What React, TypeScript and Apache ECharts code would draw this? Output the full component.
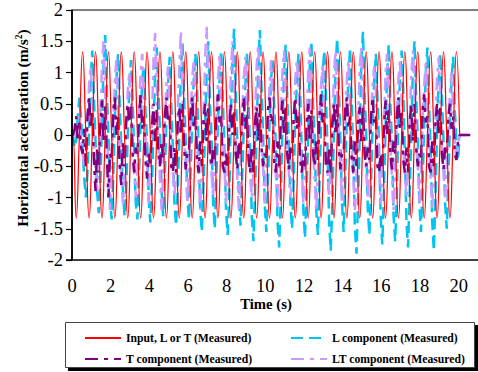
import React, { useEffect, useRef } from "react";
import * as echarts from "echarts";

// time base (s)
const sampleStart = 0.05;
const sampleStep = 1 / 12;
const inputStep = 1 / 6;
const tailTime = 20.6;

const seriesNames = [
  "Input, L or T (Measured)",
  "L component (Measured)",
  "T component (Measured)",
  "LT component (Measured)",
];

// Input (red), sampled every 1/6 s
const inputValues = [
  0, -1.33, 0, 1.33, 0, -1.33, 0, 1.33,
  0, -1.33, 0, 1.33, 0, -1.33, 0, 1.33,
  0, -1.33, 0, 1.33, 0, -1.33, 0, 1.33,
  0, -1.33, 0, 1.33, 0, -1.33, 0, 1.33,
  0, -1.33, 0, 1.33, 0, -1.33, 0, 1.33,
  0, -1.33, 0, 1.33, 0, -1.33, 0, 1.33,
  0, -1.33, 0, 1.33, 0, -1.33, 0, 1.33,
  0, -1.33, 0, 1.33, 0, -1.33, 0, 1.33,
  0, -1.33, 0, 1.33, 0, -1.33, 0, 1.33,
  0, -1.33, 0, 1.33, 0, -1.33, 0, 1.33,
  0, -1.33, 0, 1.33, 0, -1.33, 0, 1.33,
  0, -1.33, 0, 1.33, 0, -1.33, 0, 1.33,
  0, -1.33, 0, 1.33, 0, -1.33, 0, 1.33,
  0, -1.33, 0, 1.33, 0, -1.33, 0, 1.33,
  0, -1.33, 0, 1.33, 0, -1.33, 0, 1.33,
  0,
];

// L component (cyan), sampled every 1/12 s
const lValues = [
  0, -0.2, -0.1, 0.3, 0.6, 0.3, -0.2, -0.7,
  -1.0, -0.6, 0.1, 0.9, 1.35, 0.6, -0.1, -0.9,
  -1.25, -0.8, 0.2, 1.1, 1.6, 0.7, 0.0, -1.0,
  -1.35, -0.7, 0.3, 0.9, 1.3, 0.5, -0.2, -0.9,
  -1.3, -0.9, 0.0, 0.8, 1.2, 0.6, -0.3, -1.1,
  -1.35, -0.6, 0.2, 0.9, 1.1, 0.4, -0.1, -1.0,
  -1.4, -0.8, 0.1, 1.0, 1.4, 0.7, 0.1, -0.9,
  -1.3, -0.7, 0.3, 0.8, 1.25, 0.5, -0.2, -1.1,
  -1.45, -0.9, 0.0, 1.1, 1.47, 0.6, -0.1, -1.0,
  -1.35, -0.6, 0.2, 0.9, 1.3, 0.8, -0.3, -1.2,
  -1.55, -0.8, 0.1, 1.0, 1.5, 0.5, 0.0, -1.1,
  -1.5, -0.7, 0.2, 0.9, 1.35, 0.6, -0.2, -1.2,
  -1.6, -1.0, 0.3, 1.2, 1.7, 0.7, -0.1, -1.0,
  -1.45, -0.7, 0.1, 0.8, 1.3, 0.5, -0.3, -1.3,
  -1.7, -0.9, 0.0, 1.1, 1.68, 0.8, 0.0, -1.1,
  -1.55, -0.8, 0.2, 0.9, 1.2, 0.4, -0.2, -1.4,
  -1.8, -1.0, 0.1, 1.0, 1.45, 0.6, -0.1, -1.1,
  -1.5, -0.7, 0.3, 0.9, 1.3, 0.7, -0.3, -1.2,
  -1.65, -0.9, 0.0, 1.1, 1.5, 0.5, 0.0, -1.2,
  -1.6, -0.8, 0.2, 1.0, 1.35, 0.6, -0.2, -1.4,
  -1.85, -1.1, 0.1, 1.1, 1.55, 0.8, -0.1, -1.1,
  -1.55, -0.7, 0.3, 0.9, 1.4, 0.5, -0.3, -1.5,
  -1.9, -1.0, 0.0, 1.2, 1.65, 0.7, 0.0, -1.2,
  -1.6, -0.8, 0.2, 0.9, 1.3, 0.6, -0.2, -1.3,
  -1.75, -0.9, 0.1, 1.0, 1.45, 0.5, -0.1, -1.3,
  -1.7, -1.0, 0.3, 0.9, 1.35, 0.7, -0.3, -1.4,
  -1.8, -0.9, 0.0, 1.1, 1.5, 0.6, 0.0, -1.1,
  -1.55, -0.8, 0.2, 1.0, 1.4, 0.5, -0.2, -1.4,
  -1.85, -1.0, 0.1, 0.9, 1.3, 0.6, -0.1, -1.1,
  -1.5, -0.7, 0.2, 0.9, 1.25, 0.4, -0.1, -0.4,
  0,
];

// T component (purple), sampled every 1/12 s
const tValues = [
  0, 0.1, 0.3, -0.1, 0.2, -0.2, -0.3, 0.1,
  -0.5, 0.3, 0.6, 0.1, 0.4, -0.4, -0.9, -0.2,
  -0.6, 0.2, 0.55, -0.1, 0.5, -0.3, -1.0, -0.3,
  -0.4, 0.4, 0.6, 0.0, 0.3, -0.5, -0.8, -0.1,
  -0.5, 0.2, 0.5, 0.2, 0.45, -0.3, -0.6, -0.2,
  -0.3, 0.3, 0.65, 0.1, 0.3, -0.4, -0.7, -0.3,
  -0.5, 0.1, 0.5, -0.1, 0.4, -0.3, -0.5, -0.1,
  -0.4, 0.3, 0.6, 0.2, 0.35, -0.5, -0.6, -0.2,
  -0.6, 0.2, 0.45, 0.0, 0.5, -0.2, -0.55, -0.3,
  -0.3, 0.4, 0.6, 0.1, 0.3, -0.4, -0.6, -0.1,
  -0.5, 0.2, 0.5, -0.1, 0.45, -0.3, -0.5, -0.2,
  -0.4, 0.3, 0.65, 0.2, 0.3, -0.5, -0.6, -0.3,
  -0.5, 0.1, 0.5, 0.0, 0.4, -0.3, -0.55, -0.1,
  -0.3, 0.3, 0.6, 0.1, 0.35, -0.4, -0.6, -0.2,
  -0.6, 0.2, 0.45, -0.1, 0.5, -0.2, -0.5, -0.3,
  -0.4, 0.4, 0.6, 0.2, 0.3, -0.5, -0.6, -0.1,
  -0.5, 0.2, 0.55, 0.0, 0.45, -0.3, -0.55, -0.2,
  -0.3, 0.3, 0.6, 0.1, 0.3, -0.4, -0.6, -0.3,
  -0.5, 0.1, 0.5, -0.1, 0.4, -0.3, -0.5, -0.1,
  -0.4, 0.3, 0.65, 0.2, 0.35, -0.5, -0.6, -0.2,
  -0.6, 0.2, 0.5, 0.0, 0.5, -0.2, -0.55, -0.3,
  -0.3, 0.4, 0.6, 0.1, 0.3, -0.4, -0.6, -0.1,
  -0.5, 0.2, 0.45, -0.1, 0.45, -0.3, -0.5, -0.2,
  -0.4, 0.3, 0.6, 0.2, 0.3, -0.5, -0.6, -0.3,
  -0.5, 0.1, 0.55, 0.0, 0.4, -0.3, -0.55, -0.1,
  -0.3, 0.3, 0.6, 0.1, 0.35, -0.4, -0.6, -0.2,
  -0.6, 0.2, 0.5, -0.1, 0.5, -0.2, -0.5, -0.3,
  -0.4, 0.4, 0.65, 0.2, 0.3, -0.5, -0.6, -0.1,
  -0.5, 0.2, 0.5, 0.0, 0.45, -0.3, -0.55, -0.2,
  -0.3, 0.3, 0.5, 0.1, 0.3, -0.3, -0.4, -0.1,
  0,
];

// LT component (lavender), sampled every 1/12 s
const ltValues = [
  0, 0, 0.1, 0.3, 0.2, -0.1, -0.3, -0.5,
  -0.3, 0.2, 0.8, 1.1, 0.6, -0.1, -0.6, -0.9,
  -0.5, 0.3, 1.1, 1.5, 0.7, 0.0, -0.5, -1.2,
  -0.6, 0.1, 0.9, 1.2, 0.5, -0.2, -0.7, -1.1,
  -0.5, 0.2, 0.7, 1.0, 0.6, -0.1, -0.6, -1.0,
  -0.6, 0.3, 1.0, 1.3, 0.5, 0.0, -0.5, -1.1,
  -0.4, 0.2, 1.2, 1.63, 0.8, -0.1, -0.7, -1.2,
  -0.6, 0.1, 0.8, 1.1, 0.5, -0.2, -0.6, -1.0,
  -0.5, 0.3, 1.1, 1.66, 0.7, 0.0, -0.5, -1.1,
  -0.6, 0.2, 0.9, 1.2, 0.6, -0.1, -0.7, -1.2,
  -0.5, 0.3, 1.2, 1.73, 0.8, -0.2, -0.6, -1.0,
  -0.4, 0.1, 0.9, 1.3, 0.5, 0.0, -0.5, -1.1,
  -0.6, 0.2, 1.0, 1.5, 0.7, -0.1, -0.7, -1.2,
  -0.5, 0.3, 0.9, 1.25, 0.6, -0.2, -0.6, -1.0,
  -0.6, 0.2, 1.1, 1.45, 0.7, 0.0, -0.5, -1.1,
  -0.5, 0.1, 0.8, 1.2, 0.5, -0.1, -0.7, -1.2,
  -0.4, 0.3, 1.0, 1.35, 0.6, -0.2, -0.6, -1.0,
  -0.6, 0.2, 0.9, 1.2, 0.7, 0.0, -0.5, -1.1,
  -0.5, 0.2, 1.0, 1.4, 0.5, -0.1, -0.7, -1.2,
  -0.6, 0.3, 0.8, 1.15, 0.6, -0.2, -0.6, -1.0,
  -0.5, 0.1, 1.0, 1.35, 0.7, 0.0, -0.5, -1.1,
  -0.4, 0.2, 0.9, 1.2, 0.5, -0.1, -0.7, -1.2,
  -0.6, 0.3, 1.1, 1.4, 0.6, -0.2, -0.6, -1.0,
  -0.5, 0.2, 0.8, 1.1, 0.7, 0.0, -0.5, -1.1,
  -0.6, 0.1, 1.0, 1.3, 0.5, -0.1, -0.7, -1.2,
  -0.5, 0.3, 0.9, 1.2, 0.6, -0.2, -0.6, -1.0,
  -0.4, 0.2, 1.0, 1.35, 0.7, 0.0, -0.5, -1.1,
  -0.6, 0.2, 0.8, 1.15, 0.5, -0.1, -0.7, -1.2,
  -0.5, 0.3, 0.9, 1.25, 0.6, -0.2, -0.6, -1.0,
  -0.5, 0.1, 0.7, 1.0, 0.4, -0.1, -0.4, -0.2,
  0,
];

const xMin = 0;
const xMax = 21;
const xInterval = 2;
const yMin = -2;
const yMax = 2;
const yInterval = 0.5;

function toPoints(values: number[], start: number, step: number, tail?: number) {
  const pts: number[][] = [[0, 0]];
  values.forEach((v, i) => pts.push([start + i * step, v]));
  if (tail !== undefined) pts.push([tail, 0]);
  return pts;
}

const serif = "Liberation Serif";

export default function App() {
  const ref = useRef<HTMLDivElement>(null);
  useEffect(() => {
    document.body.style.margin = "0";
    if (!ref.current) return;
    const chart = echarts.init(ref.current, null, { renderer: "svg" });
    const legendText = { fontFamily: serif, fontWeight: "bold", fontSize: 11.7, color: "#000" };
    const legendBase = {
      orient: "vertical",
      top: 327,
      itemWidth: 36,
      itemHeight: 14,
      itemGap: 9,
      selectedMode: false,
      textStyle: legendText,
      itemStyle: { opacity: 0 },
      z: 10,
    };
    chart.setOption({
      animation: false,
      backgroundColor: "#fff",
      grid: { left: 72, top: 10, right: -3.5, bottom: 112 },
      xAxis: {
        type: "value",
        min: xMin,
        max: xMax,
        interval: xInterval,
        position: "bottom",
        axisLine: { show: false, onZero: false },
        axisTick: { show: false },
        splitLine: { show: false },
        axisLabel: {
          showMaxLabel: false,
          margin: 19,
          lineHeight: 14,
          fontFamily: serif,
          fontSize: 18.5,
          color: "#000",
        },
      },
      yAxis: {
        type: "value",
        min: yMin,
        max: yMax,
        interval: yInterval,
        z: 20,
        axisLine: { show: true, onZero: false, lineStyle: { color: "#000", width: 1.5 } },
        axisTick: { show: true, inside: false, length: 6, lineStyle: { color: "#000", width: 1.2 } },
        splitLine: { show: false },
        axisLabel: { margin: 9, lineHeight: 14, fontFamily: serif, fontSize: 18.5, color: "#000" },
      },
      legend: [
        { ...legendBase, data: [seriesNames[0], seriesNames[2]], left: 79 },
        { ...legendBase, data: [seriesNames[1], seriesNames[3]], left: 285 },
      ],
      graphic: [
        // plot frame: top edge (grey) and bottom edge (black)
        { type: "line", z: 100, shape: { x1: 72, y1: 10, x2: 478, y2: 10 }, style: { stroke: "#555", lineWidth: 1.5 } },
        { type: "line", z: 100, shape: { x1: 66, y1: 260, x2: 478, y2: 260 }, style: { stroke: "#000", lineWidth: 1.5 } },
        { type: "line", z: 100, shape: { x1: 72, y1: 10, x2: 72, y2: 260 }, style: { stroke: "#000", lineWidth: 1.5 } },
        // legend box with shadow
        { type: "rect", z: 1, shape: { x: 68, y: 325, width: 410, height: 46 }, style: { fill: "#000" } },
        { type: "rect", z: 2, shape: { x: 65.5, y: 322.5, width: 409, height: 45 }, style: { fill: "#fff", stroke: "#444", lineWidth: 1 } },
        {
          type: "text",
          z: 3,
          x: 266,
          y: 304,
          style: {
            text: "Time (s)",
            fontFamily: serif,
            fontWeight: "bold",
            fontSize: 14.7,
            lineHeight: 13,
            fill: "#000",
            align: "center",
            verticalAlign: "middle",
          },
        },
        {
          type: "text",
          z: 3,
          x: 22,
          y: 128,
          rotation: Math.PI / 2,
          style: {
            text: "{a|Horizontal acceleration (m/s}{s|2}{a|)}",
            align: "center",
            verticalAlign: "middle",
            rich: {
              a: { fontFamily: serif, fontWeight: "bold", fontSize: 15.5, fill: "#000", color: "#000" },
              s: { fontFamily: serif, fontWeight: "bold", fontSize: 9.5, fill: "#000", color: "#000", verticalAlign: "top", padding: [0, 0, 7, 0] },
            },
          },
        },
      ],
      series: [
        {
          name: seriesNames[0],
          type: "line",
          data: toPoints(inputValues, sampleStart, inputStep),
          smooth: 0.5,
          symbol: "none",
          z: 5,
          color: "#ff0000",
          lineStyle: { color: "#ff0000", width: 1.2 },
        },
        {
          name: seriesNames[1],
          type: "line",
          data: toPoints(lValues, sampleStart, sampleStep),
          symbol: "none",
          z: 2,
          color: "#00c4f2",
          lineStyle: { color: "#00c4f2", width: 2.5, type: [12, 6] },
        },
        {
          name: seriesNames[2],
          type: "line",
          data: toPoints(tValues, sampleStart, sampleStep, tailTime),
          symbol: "none",
          z: 4,
          color: "#800080",
          lineStyle: { color: "#800080", width: 2.5, type: [13, 6, 4, 6] },
        },
        {
          name: seriesNames[3],
          type: "line",
          data: toPoints(ltValues, sampleStart, sampleStep, tailTime),
          symbol: "none",
          z: 3,
          color: "#cc99ff",
          lineStyle: { color: "#cc99ff", width: 2.5, type: [13, 6, 4, 6] },
        },
      ],
    });
    return () => chart.dispose();
  }, []);
  return <div ref={ref} style={{ width: 478, height: 372 }} />;
}
